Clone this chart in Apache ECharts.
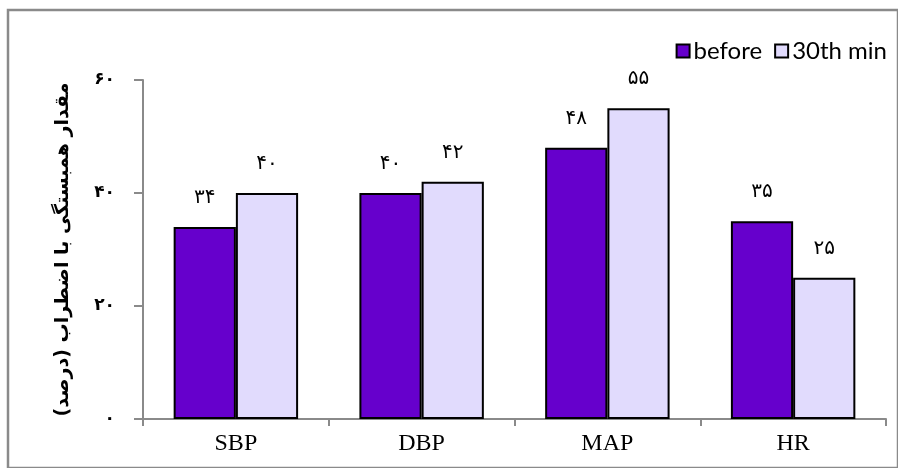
<!DOCTYPE html>
<html>
<head>
<meta charset="utf-8">
<script src="https://cdn.jsdelivr.net/npm/echarts@6/dist/echarts.min.js"></script>
<style>
html,body{margin:0;padding:0;background:#fff;}
#c{width:898px;height:468px;}
</style>
</head>
<body>
<div id="c"></div>
<script>
const categories = ['SBP', 'DBP', 'MAP', 'HR'];
const seriesNames = ['before', '30th min'];
const beforeValues = [34, 40, 48, 35];
const after30Values = [40, 42, 55, 25];
const yTicks = [0, 20, 40, 60];
const yTitle = 'مقدار همبستگی با اضطراب (درصد)';

const fa = v => String(v).replace(/\d/g, d => '۰۱۲۳۴۵۶۷۸۹'[d]);

const chart = echarts.init(document.getElementById('c'), null, {renderer: 'canvas'});
const labelStyle = {
  show: true, position: 'top', distance: 19,
  formatter: p => fa(p.value),
  fontFamily: 'DejaVu Sans', fontSize: 20, color: '#000'
};
chart.setOption({
  animation: false,
  backgroundColor: '#fff',
  legend: {
    right: 6, top: 34, itemWidth: 13, itemHeight: 13, itemGap: 12,
    icon: 'rect',
    textStyle: {fontFamily: 'Lato', fontSize: 24, color: '#000', padding: [0, 0, 0, -1]},
    data: seriesNames
  },
  grid: [
    {left: 143, right: 12, top: 80, bottom: 49},
    {left: 8, top: 10, width: 930, height: 490, containLabel: false, show: true, borderColor: '#8a8a8a', borderWidth: 2.5, backgroundColor: 'transparent', z: 0}
  ],
  xAxis: [{
    type: 'category', data: categories,
    axisLine: {lineStyle: {color: '#8a8a8a', width: 2}},
    axisTick: {show: true, length: 7, lineStyle: {color: '#8a8a8a', width: 2}},
    axisLabel: {fontFamily: 'Liberation Serif', fontSize: 24, color: '#000', margin: 13}
  }, {
    type: 'value', gridIndex: 1, show: false
  }],
  yAxis: [{
    type: 'value', min: yTicks[0], max: yTicks[yTicks.length - 1], interval: 20,
    name: yTitle, nameLocation: 'middle', nameRotate: 90, nameGap: 70,
    nameTextStyle: {fontFamily: 'DejaVu Sans', fontSize: 19, fontWeight: 'bold', color: '#000'},
    axisLine: {show: true, lineStyle: {color: '#8a8a8a', width: 2}},
    axisTick: {show: true, length: 9, lineStyle: {color: '#8a8a8a', width: 2}},
    splitLine: {show: false},
    axisLabel: {formatter: v => fa(v), fontFamily: 'DejaVu Sans', fontSize: 17, fontWeight: 'bold', color: '#000', margin: 28}
  }, {
    type: 'value', gridIndex: 1, show: false
  }],
  series: [
    {
      name: seriesNames[0], type: 'bar', data: beforeValues,
      barGap: '0%', barCategoryGap: '33%',
      itemStyle: {color: '#6600cc', borderColor: '#000', borderWidth: 2},
      label: labelStyle
    },
    {
      name: seriesNames[1], type: 'bar', data: after30Values,
      itemStyle: {color: '#e1dbfd', borderColor: '#000', borderWidth: 2},
      label: labelStyle
    }
  ]
});
</script>
</body>
</html>
